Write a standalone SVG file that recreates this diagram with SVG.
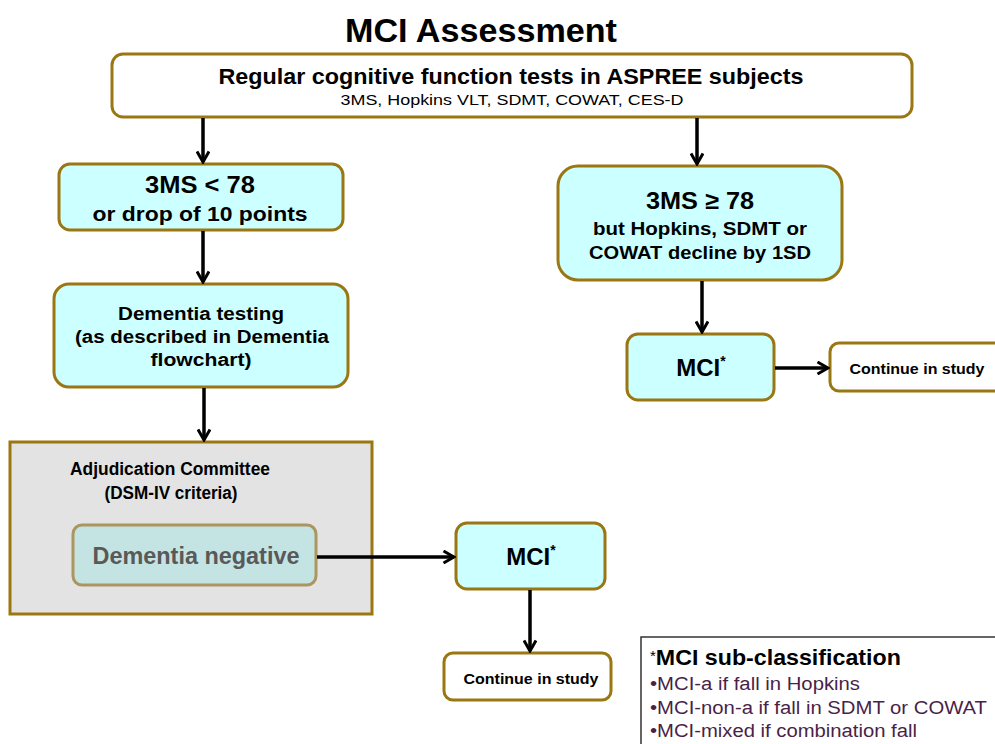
<svg xmlns="http://www.w3.org/2000/svg" width="995" height="744" viewBox="0 0 995 744">
<style>
text{font-family:"Liberation Sans",Arial,sans-serif;fill:#000;text-anchor:middle}
.b{font-weight:bold}
.box{stroke:#9a7712;stroke-width:3}
.cy{fill:#ccffff}
.wh{fill:#fff}
.con{stroke:#000;stroke-width:3.5;fill:none}
.lg{font-size:18px;fill:#4a1f48;text-anchor:start}
</style>
<defs>
<marker id="ah" viewBox="0 0 14 14" refX="12" refY="7" markerWidth="14" markerHeight="14" markerUnits="userSpaceOnUse" orient="auto">
<path d="M1.5,1 L12,7 L1.5,13" fill="none" stroke="#000" stroke-width="3"/>
</marker>
</defs>
<rect width="995" height="744" fill="#fff"/>
<text id="title" x="481" y="42" class="b" font-size="34" textLength="272" lengthAdjust="spacingAndGlyphs">MCI Assessment</text>
<g id="top">
<rect class="box wh" x="112" y="54" width="800" height="63" rx="11"/>
<text x="511" y="84" class="b" font-size="22" textLength="585" lengthAdjust="spacingAndGlyphs">Regular cognitive function tests in ASPREE subjects</text>
<text x="512" y="105" font-size="15" textLength="343" lengthAdjust="spacingAndGlyphs">3MS, Hopkins VLT, SDMT, COWAT, CES-D</text>
</g>
<g id="lt78">
<rect class="box cy" x="59" y="164" width="284" height="66" rx="11"/>
<text x="200" y="193" class="b" font-size="24" textLength="110" lengthAdjust="spacingAndGlyphs">3MS &lt; 78</text>
<text x="200" y="221" class="b" font-size="21" textLength="215" lengthAdjust="spacingAndGlyphs">or drop of 10 points</text>
</g>
<g id="dementiaTesting">
<rect class="box cy" x="54" y="284" width="294" height="103" rx="15"/>
<text x="201" y="320" class="b" font-size="18" textLength="166" lengthAdjust="spacingAndGlyphs">Dementia testing</text>
<text x="202" y="343" class="b" font-size="18" textLength="254" lengthAdjust="spacingAndGlyphs">(as described in Dementia</text>
<text x="201" y="366" class="b" font-size="18" textLength="101" lengthAdjust="spacingAndGlyphs">flowchart)</text>
</g>
<g id="adjudication">
<rect x="10" y="442" width="362" height="172" fill="#e3e3e3" stroke="#9a7712" stroke-width="3"/>
<text x="170" y="475" class="b" font-size="18" textLength="200" lengthAdjust="spacingAndGlyphs">Adjudication Committee</text>
<text x="171" y="499" class="b" font-size="18" textLength="133" lengthAdjust="spacingAndGlyphs">(DSM-IV criteria)</text>
</g>
<g id="dementiaNegative">
<rect x="73" y="525" width="243" height="60" rx="9" fill="#c4e3e3" stroke="#ab9660" stroke-width="3"/>
<text x="196" y="564" class="b" font-size="23" style="fill:#595959" textLength="207" lengthAdjust="spacingAndGlyphs">Dementia negative</text>
</g>
<g id="mciLeft">
<rect class="box cy" x="456" y="523" width="149" height="66" rx="11"/>
<text x="531" y="565" class="b" font-size="24">MCI<tspan font-size="14" dy="-10">*</tspan></text>
</g>
<g id="continueLeft">
<rect class="box wh" x="444" y="653" width="167" height="47" rx="9"/>
<text x="531" y="684" class="b" font-size="15" textLength="135" lengthAdjust="spacingAndGlyphs">Continue in study</text>
</g>
<g id="ge78">
<rect class="box cy" x="558" y="166" width="284" height="114" rx="20"/>
<text x="700" y="209" class="b" font-size="24" textLength="108" lengthAdjust="spacingAndGlyphs">3MS ≥ 78</text>
<text x="700" y="235" class="b" font-size="18" textLength="214" lengthAdjust="spacingAndGlyphs">but Hopkins, SDMT or</text>
<text x="700" y="259" class="b" font-size="18" textLength="222" lengthAdjust="spacingAndGlyphs">COWAT decline by 1SD</text>
</g>
<g id="mciRight">
<rect class="box cy" x="627" y="334" width="147" height="66" rx="11"/>
<text x="701" y="376" class="b" font-size="24">MCI<tspan font-size="14" dy="-10">*</tspan></text>
</g>
<g id="continueRight">
<rect class="box wh" x="830" y="343" width="175" height="48" rx="9"/>
<text x="917" y="374" class="b" font-size="15" textLength="135" lengthAdjust="spacingAndGlyphs">Continue in study</text>
</g>
<g id="legend">
<rect x="641" y="637" width="364" height="120" fill="#fff" stroke="#333" stroke-width="1.5"/>
<text x="650" y="665" class="b" font-size="22" style="text-anchor:start"><tspan font-size="15" font-weight="normal" dy="-4">*</tspan><tspan dy="4" textLength="245" lengthAdjust="spacingAndGlyphs">MCI sub-classification</tspan></text>
<text x="650" y="690" class="lg" textLength="210" lengthAdjust="spacingAndGlyphs">•MCI-a if fall in Hopkins</text>
<text x="650" y="714" class="lg" textLength="337" lengthAdjust="spacingAndGlyphs">•MCI-non-a if fall in SDMT or COWAT</text>
<text x="650" y="737" class="lg" textLength="267" lengthAdjust="spacingAndGlyphs">•MCI-mixed if combination fall</text>
</g>
<g id="connectors">
<line class="con" x1="203" y1="118" x2="203" y2="162" marker-end="url(#ah)"/>
<line class="con" x1="697" y1="118" x2="697" y2="164" marker-end="url(#ah)"/>
<line class="con" x1="203" y1="231" x2="203" y2="282" marker-end="url(#ah)"/>
<line class="con" x1="204" y1="388" x2="204" y2="440" marker-end="url(#ah)"/>
<line class="con" x1="702" y1="281" x2="702" y2="332" marker-end="url(#ah)"/>
<line class="con" x1="775" y1="368" x2="828" y2="368" marker-end="url(#ah)"/>
<line class="con" x1="317" y1="557" x2="454" y2="557" marker-end="url(#ah)"/>
<line class="con" x1="530" y1="590" x2="530" y2="651" marker-end="url(#ah)"/>
</g>
</svg>
